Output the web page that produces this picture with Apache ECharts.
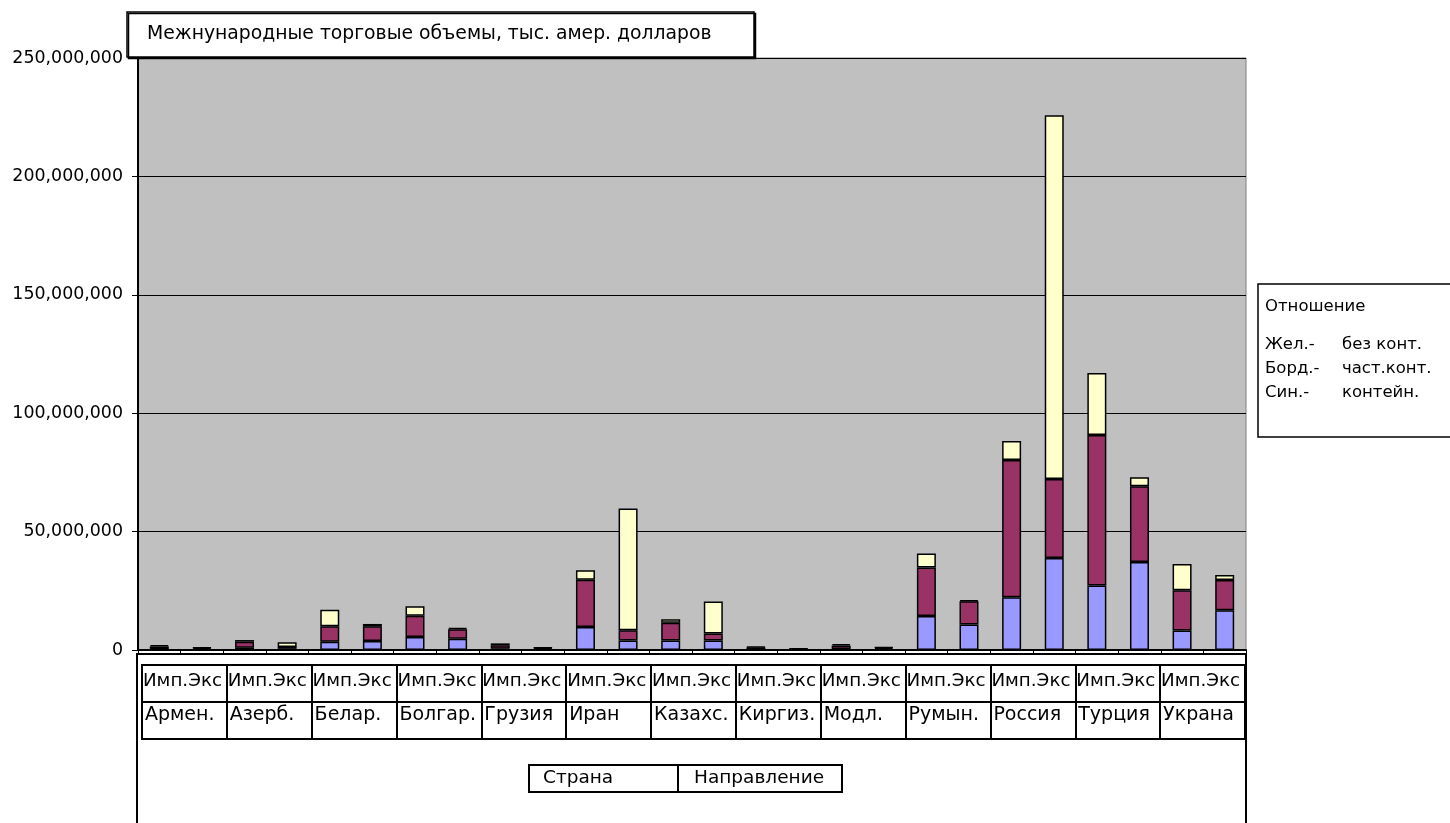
<!DOCTYPE html>
<html>
<head>
<meta charset="utf-8">
<script src="https://cdn.jsdelivr.net/npm/echarts@6/dist/echarts.min.js"></script>
<style>
  html, body { margin: 0; padding: 0; background: #ffffff; }
  #chart { width: 1450px; height: 823px; }
</style>
</head>
<body>
<div id="chart"></div>
<script>
// Countries (outer category level) and trade directions (inner level)
const countries = ['Армен.', 'Азерб.', 'Белар.', 'Болгар.', 'Грузия', 'Иран', 'Казахс.',
                   'Киргиз.', 'Модл.', 'Румын.', 'Россия', 'Турция', 'Украна'];
const directions = ['Имп.', 'Экс'];

// Series names, short colour prefixes used in the key, and their order in the key
const seriesNames = ['контейн.', 'част.конт.', 'без конт.'];
const seriesPrefixes = ['Син.-', 'Борд.-', 'Жел.-'];
const keyOrder = ['без конт.', 'част.конт.', 'контейн.'];
const keyTitle = 'Отношение';

// Volumes per country: import, export (stacked bottom to top)
const containerVolumes = [
  300000, 200000, 1000000, 500000, 3500000, 3800000, 5500000, 4800000, 500000, 300000,
  9700000, 4000000, 4000000, 4000000, 300000, 100000, 400000, 300000, 14400000, 10800000,
  22300000, 38900000, 27200000, 37200000, 8200000, 16800000
];
const partialVolumes = [
  1200000, 600000, 2500000, 800000, 6500000, 6200000, 9000000, 4000000, 1500000, 500000,
  20000000, 4300000, 7500000, 3000000, 800000, 300000, 1500000, 600000, 20400000, 9800000,
  57900000, 33300000, 63600000, 31900000, 17000000, 12800000
];
const bulkVolumes = [
  500000, 300000, 700000, 2000000, 7000000, 1000000, 4000000, 500000, 800000, 200000,
  4000000, 51500000, 1500000, 13500000, 400000, 200000, 600000, 300000, 6000000, 500000,
  8100000, 153600000, 26200000, 3800000, 11100000, 2100000
];

// Value axis range
const valueMax = 250000000;
const valueStep = 50000000;

const titleText = 'Межнународные торговые объемы, тыс. амер. долларов';
const fieldButtons = ['Страна', 'Направление'];

const FONT = 'DejaVu Sans';
const colors = ['#9999FF', '#993366', '#FFFFCC'];

const barCategories = [];
countries.forEach(c => directions.forEach(d => barCategories.push(c + ' ' + d)));
const stacks = [containerVolumes, partialVolumes, bulkVolumes];

const chart = echarts.init(document.getElementById('chart'));

// labels of the two-row category table under the plot
const tableLabel = (fmt, margin, size, boxWidth) => ({
  inside: true,
  interval: 0,
  margin: margin,
  formatter: v => '{t|' + fmt(v) + '}',
  rich: { t: { width: boxWidth, align: 'left', fontFamily: FONT, fontSize: size, lineHeight: 22, color: '#000' } }
});

chart.setOption({
  animation: false,
  textStyle: { fontFamily: FONT },
  title: {
    text: titleText,
    left: 127, top: 12,
    padding: [13, 43, 13, 20],
    backgroundColor: '#ffffff',
    borderColor: '#000', borderWidth: 1.5,
    shadowColor: '#000', shadowOffsetX: 1.5, shadowOffsetY: 1.5,
    textStyle: { fontFamily: FONT, fontSize: 18.8, fontWeight: 'normal', color: '#000' }
  },
  legend: {
    orient: 'vertical',
    left: 1254, top: 331,
    itemWidth: 0, itemHeight: 0, itemGap: 7,
    selectedMode: false,
    data: keyOrder,
    formatter: name => '{p|' + seriesPrefixes[seriesNames.indexOf(name)] + '}{n|' + name + '}',
    textStyle: {
      color: '#000', fontFamily: FONT, fontSize: 16.5,
      rich: {
        p: { width: 77, fontFamily: FONT, fontSize: 16.5, color: '#000' },
        n: { fontFamily: FONT, fontSize: 16.5, color: '#000' }
      }
    }
  },
  grid: [
    { left: 138, right: 204, top: 58, height: 592, show: true,
      backgroundColor: '#C0C0C0', borderColor: '#808080', borderWidth: 1 },
    { left: 142, right: 205, top: 665, height: 74, show: true,
      backgroundColor: 'transparent', borderColor: '#000', borderWidth: 2 }
  ],
  xAxis: [
    { gridIndex: 0, type: 'category', data: barCategories,
      axisLine: { lineStyle: { color: '#000', width: 2 } },
      axisTick: { show: true, interval: 0, length: 5, lineStyle: { color: '#000', width: 1 } },
      axisLabel: { show: false } },
    { gridIndex: 1, type: 'category', data: countries, position: 'bottom',
      axisLine: { show: false }, axisTick: { show: false },
      splitLine: { show: true, interval: 0, lineStyle: { color: '#000', width: 2 } },
      axisLabel: tableLabel(v => v, 13, 19, 79) },
    { gridIndex: 1, type: 'category', data: countries, position: 'top',
      axisLine: { show: false }, axisTick: { show: false },
      axisLabel: tableLabel(() => directions.join(''), 5, 18.3, 83) }
  ],
  yAxis: [
    { gridIndex: 0, type: 'value', min: 0, max: valueMax, interval: valueStep,
      axisLine: { show: true, lineStyle: { color: '#000', width: 2 } },
      axisTick: { show: true, length: 6, lineStyle: { color: '#000', width: 1 } },
      axisLabel: { margin: 15, color: '#000', fontFamily: FONT, fontSize: 17.4,
        formatter: v => v.toLocaleString('en-US') },
      splitLine: { show: true, lineStyle: { color: '#000', width: 1 } } },
    { gridIndex: 1, type: 'value', min: 0, max: 2, interval: 1,
      axisLine: { show: false }, axisTick: { show: false }, axisLabel: { show: false },
      splitLine: { show: true, lineStyle: { color: '#000', width: 2 } } }
  ],
  series: stacks.map((vals, i) => ({
    name: seriesNames[i],
    type: 'bar',
    stack: 'total',
    xAxisIndex: 0, yAxisIndex: 0,
    barWidth: 19,
    data: vals,
    itemStyle: { color: colors[i], borderColor: '#000', borderWidth: 1.5 }
  })),
  graphic: [
    // frame of the category area below the plot
    { type: 'rect', z: -10, shape: { x: 137, y: 654, width: 1109, height: 200 },
      style: { fill: '#fff', stroke: '#000', lineWidth: 2 } },
    // key box on the right
    { type: 'rect', z: -10, shape: { x: 1258, y: 284, width: 200, height: 153 },
      style: { fill: '#fff', stroke: '#000', lineWidth: 1.5 } },
    { type: 'text', left: 1265, top: 298,
      style: { text: keyTitle, font: '16.5px "DejaVu Sans"', fill: '#000' } },
    // field buttons
    { type: 'rect', shape: { x: 529, y: 765, width: 149, height: 27 },
      style: { fill: '#fff', stroke: '#000', lineWidth: 2 } },
    { type: 'rect', shape: { x: 678, y: 765, width: 164, height: 27 },
      style: { fill: '#fff', stroke: '#000', lineWidth: 2 } },
    { type: 'text', left: 543, top: 769,
      style: { text: fieldButtons[0], font: '18.5px "DejaVu Sans"', fill: '#000' } },
    { type: 'text', left: 694, top: 769,
      style: { text: fieldButtons[1], font: '18.5px "DejaVu Sans"', fill: '#000' } }
  ]
});
</script>
</body>
</html>
